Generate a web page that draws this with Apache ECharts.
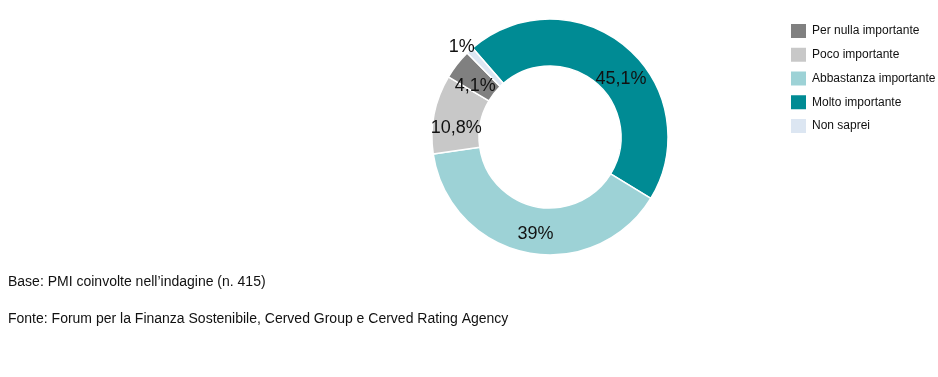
<!DOCTYPE html>
<html>
<head>
<meta charset="utf-8">
<script src="https://cdn.jsdelivr.net/npm/echarts@6/dist/echarts.min.js"></script>
<style>
  html, body { margin: 0; padding: 0; background: #fff; }
  #chart { width: 938px; height: 377px; }
</style>
</head>
<body>
<div id="chart"></div>
<script>
// ordine in senso orario, partendo da "Molto importante"
const categories = ['Molto importante', 'Abbastanza importante', 'Poco importante', 'Per nulla importante', 'Non saprei']
const values = [45.1, 39, 10.8, 4.1, 1]
const labels = ['45,1%', '39%', '10,8%', '4,1%', '1%']
const colors = ['#008b94', '#9dd2d6', '#c8c8c8', '#808080', '#dce6f2']
// ordine della legenda
const legendOrder = ['Per nulla importante', 'Poco importante', 'Abbastanza importante', 'Molto importante', 'Non saprei']

const chart = echarts.init(document.getElementById('chart'))

// piccoli spostamenti delle etichette come nell'originale
const labelShift = [[8, 17], [5, 2], [2, 10], [2, 9], [10, -3]]

const pieData = categories.map((name, i) => {
  const item = {
    name: name,
    value: values[i],
    itemStyle: { color: colors[i] },
    label: { formatter: labels[i], offset: labelShift[i] }
  }
  // la fetta piccola ha l'etichetta fuori
  if (i === 4) {
    item.label.position = 'outside'
    item.labelLine = { show: false, length: 0, length2: 0 }
  }
  return item
})

chart.setOption({
  animation: false,
  textStyle: { fontFamily: 'Liberation Sans, Arial, sans-serif' },
  title: [
    {
      text: 'Base: PMI coinvolte nell\u2019indagine (n. 415)',
      left: 8,
      top: 275,
      padding: 0,
      textStyle: { fontSize: 14, fontWeight: 'normal', color: '#111' }
    },
    {
      text: 'Fonte: Forum per la Finanza Sostenibile, Cerved Group e Cerved Rating Agency',
      left: 8,
      top: 312,
      padding: 0,
      textStyle: { fontSize: 14, fontWeight: 'normal', color: '#111' }
    }
  ],
  legend: {
    orient: 'vertical',
    left: 789,
    top: 22,
    padding: 0,
    itemWidth: 17,
    itemHeight: 16,
    itemGap: 5.75,
    selectedMode: false,
    icon: 'rect',
    data: legendOrder,
    textStyle: {
      fontFamily: 'Liberation Sans, Arial, sans-serif',
      fontSize: 12,
      lineHeight: 16,
      color: '#111'
    }
  },
  series: [
    {
      type: 'pie',
      center: [550, 137],
      radius: [71, 118],
      startAngle: 131,
      clockwise: true,
      avoidLabelOverlap: false,
      itemStyle: { borderColor: '#fff', borderWidth: 1.5 },
      label: {
        show: true,
        position: 'inside',
        fontSize: 18,
        color: '#111',
        fontFamily: 'Liberation Sans, Arial, sans-serif'
      },
      labelLine: { show: false },
      emphasis: { disabled: true },
      data: pieData
    }
  ]
})
</script>
</body>
</html>
